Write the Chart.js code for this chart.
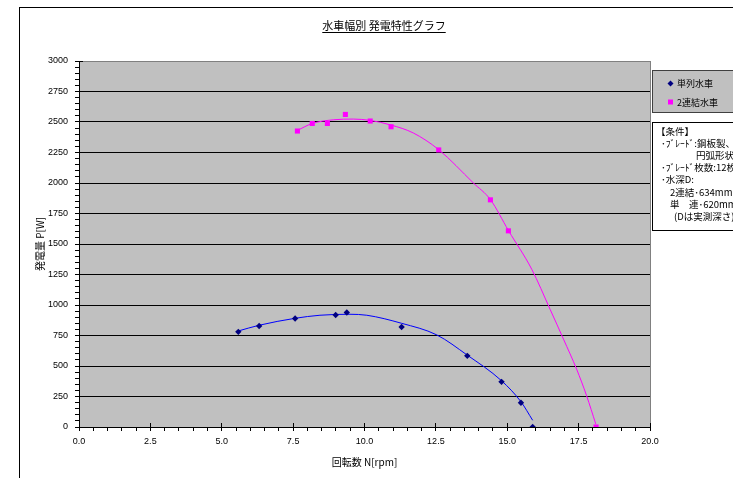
<!DOCTYPE html>
<html><head><meta charset="utf-8">
<script src="https://cdn.jsdelivr.net/npm/chart.js@4.4.0/dist/chart.umd.min.js"></script>
<style>html,body{margin:0;padding:0;background:#fff;overflow:hidden}#wrap{width:733px;height:478px}</style>
</head><body><div id="wrap"><canvas id="c" width="733" height="478"></canvas></div>
<script>
const chartTitle = '水車幅別 発電特性グラフ';
const xAxisTitle = '回転数 N[rpm]';
const yAxisTitle = '発電量 P[W]';
const seriesNames = ['単列水車', '2連結水車'];

// measured points
const rpmSingle   = [5.58, 6.31, 7.57, 8.99, 9.38, 11.30, 13.60, 14.80, 15.48, 15.89];
const powerSingle = [780, 828, 889, 918, 938, 820, 583, 370, 199, 0];
const rpmDouble   = [7.65, 8.17, 8.70, 9.33, 10.20, 10.93, 12.60, 14.41, 15.04, 18.11];
const powerDouble = [2426, 2488, 2488, 2562, 2508, 2461, 2271, 1862, 1608, 0];

// trendlines
const trendSingleX = [5.58, 6.31, 7.57, 8.44, 9.49, 10.08, 11.30, 12.53, 13.60, 14.80, 15.48, 15.89];
const trendSingleY = [787, 834, 891, 916, 924, 916, 850, 755, 589, 379, 207, 55];
const trendDoubleX = [7.65, 8.17, 8.91, 9.61, 10.20, 10.93, 11.71, 12.60, 13.81, 14.41, 15.04, 15.86, 16.50, 16.97, 17.43, 17.78, 18.10];
const trendDoubleY = [2431, 2488, 2518, 2524, 2513, 2475, 2410, 2273, 2001, 1864, 1611, 1292, 965, 720, 474, 256, 25];

const xMin = 0, xMax = 20, xStep = 2.5, xMinor = 0.5;
const yMin = 0, yMax = 3000, yStep = 250, yMinor = 50;

const conditionLines = ['【条件】', '･ﾌﾞﾚｰﾄﾞ:鋼板製、', '円弧形状', '･ﾌﾞﾚｰﾄﾞ枚数:12枚', '･水深D:', '2連結･634mm', '単　連･620mm', '(Dは実測深さ)'];
const conditionIndent = [4, 9, 44, 9, 9, 18, 18, 22];

const pts = (xs, ys) => xs.map((x, i) => ({x, y: ys[i]}));
const JP = '"Noto Sans CJK JP", sans-serif';
const LAT = '"Liberation Sans", Arial, sans-serif';

const decor = {
  id: 'decor',
  beforeDraw(chart) {
    const {ctx, chartArea: a} = chart;
    ctx.save();
    ctx.fillStyle = '#fff'; ctx.fillRect(0, 0, chart.width, chart.height);
    ctx.strokeStyle = '#000'; ctx.lineWidth = 1;
    ctx.strokeRect(19.5, 7.5, chart.width + 20, chart.height + 20);
    ctx.fillStyle = '#C0C0C0';
    ctx.fillRect(a.left, a.top, a.right - a.left, a.bottom - a.top);
    ctx.restore();
  },
  beforeDatasetsDraw(chart) {
    const {ctx, chartArea: a} = chart;
    ctx.save();
    ctx.strokeStyle = '#808080'; ctx.lineWidth = 1;
    ctx.beginPath();
    ctx.moveTo(a.right + 0.5, a.top); ctx.lineTo(a.right + 0.5, a.bottom);
    ctx.moveTo(a.left, a.top + 0.5); ctx.lineTo(a.right + 1, a.top + 0.5);
    ctx.stroke();
    ctx.restore();
  },
  afterDraw(chart) {
    const {ctx, chartArea: a} = chart;
    const xs = chart.scales.x, ys = chart.scales.y;
    const al = p => Math.round(p - 0.5) + 0.5;
    ctx.save();
    ctx.strokeStyle = '#000'; ctx.lineWidth = 1;
    ctx.beginPath();
    const ny = Math.round((yMax - yMin) / yMinor);
    for (let i = 0; i <= ny; i++) {
      const v = yMin + i * yMinor;
      const y = al(ys.getPixelForValue(v));
      const major = Math.abs(v / yStep - Math.round(v / yStep)) < 1e-6;
      ctx.moveTo(a.left - 4, y); ctx.lineTo(major ? a.left + 4 : a.left + 0.5, y);
    }
    const nx = Math.round((xMax - xMin) / xMinor);
    for (let i = 0; i <= nx; i++) {
      const v = xMin + i * xMinor;
      const x = al(xs.getPixelForValue(v));
      const major = Math.abs(v / xStep - Math.round(v / xStep)) < 1e-6;
      ctx.moveTo(x, major ? a.bottom - 4 : a.bottom); ctx.lineTo(x, a.bottom + 4);
    }
    ctx.stroke();

    // title
    ctx.fillStyle = '#000';
    ctx.font = '11px ' + JP;
    ctx.textAlign = 'center'; ctx.textBaseline = 'alphabetic';
    const tx = 384, ty = 30;
    ctx.fillText(chartTitle, tx, ty);
    const tw = ctx.measureText(chartTitle).width;
    ctx.beginPath(); ctx.moveTo(tx - tw / 2, 32.5); ctx.lineTo(tx + tw / 2, 32.5); ctx.stroke();

    // legend box
    ctx.fillStyle = '#C0C0C0';
    ctx.fillRect(652, 70, 100, 42);
    ctx.strokeStyle = '#404040';
    ctx.strokeRect(652.5, 70.5, 100, 42);
    const ds = chart.data.datasets;
    ctx.fillStyle = ds[0].pointBackgroundColor;
    ctx.beginPath();
    ctx.moveTo(670.5, 80.5); ctx.lineTo(673.5, 83.5); ctx.lineTo(670.5, 86.5); ctx.lineTo(667.5, 83.5); ctx.closePath(); ctx.fill();
    ctx.fillStyle = ds[1].pointBackgroundColor;
    ctx.fillRect(668, 99.5, 5, 5);
    ctx.fillStyle = '#000';
    ctx.textAlign = 'left'; ctx.textBaseline = 'middle';
    ctx.font = '9px ' + JP;
    ctx.fillText(seriesNames[0], 677, 84);
    ctx.fillText(seriesNames[1], 677, 102.5);

    // conditions box
    ctx.fillStyle = '#fff';
    ctx.fillRect(652, 122, 100, 108);
    ctx.strokeStyle = '#000';
    ctx.strokeRect(652.5, 122.5, 100, 108);
    ctx.fillStyle = '#000';
    ctx.font = '9.5px ' + JP;
    conditionLines.forEach((t, i) => {
      ctx.fillText(t, 652 + conditionIndent[i], 131 + i * 12.2);
    });
    ctx.restore();
  }
};

new Chart(document.getElementById('c'), {
  type: 'scatter',
  data: {
    datasets: [
      {label: seriesNames[0], data: pts(rpmSingle, powerSingle), pointStyle: 'rectRot', pointRadius: 3.2,
       pointBackgroundColor: '#000080', pointBorderColor: '#000080', pointBorderWidth: 0, showLine: false, order: 0},
      {label: seriesNames[1], data: pts(rpmDouble, powerDouble), pointStyle: 'rect', pointRadius: 3.6,
       pointBackgroundColor: '#FF00FF', pointBorderColor: '#FF00FF', pointBorderWidth: 0, showLine: false, order: 0},
      {label: 'trend1', data: pts(trendSingleX, trendSingleY), showLine: true, pointRadius: 0,
       borderColor: '#0000FF', borderWidth: 1, cubicInterpolationMode: 'monotone', order: 1},
      {label: 'trend2', data: pts(trendDoubleX, trendDoubleY), showLine: true, pointRadius: 0,
       borderColor: '#FF00FF', borderWidth: 1, cubicInterpolationMode: 'monotone', order: 1}
    ]
  },
  options: {
    responsive: false, animation: false, devicePixelRatio: 1,
    layout: {padding: {left: 19, top: 61, right: 83, bottom: 0}},
    plugins: {legend: {display: false}, tooltip: {enabled: false}, title: {display: false}},
    scales: {
      x: {
        type: 'linear', min: xMin, max: xMax,
        afterFit: s => { s.height = 51; },
        ticks: {stepSize: xStep, padding: 9, color: '#000', font: {family: LAT, size: 9},
                callback: v => Number(v).toFixed(1), maxRotation: 0, autoSkip: false},
        grid: {display: false, drawTicks: false},
        border: {display: true, color: '#000', width: 1},
        title: {display: true, text: xAxisTitle, color: '#000', font: {family: JP, size: 10}, padding: {top: 0, bottom: 10}}
      },
      y: {
        type: 'linear', min: yMin, max: yMax,
        afterFit: s => { s.width = 60; },
        ticks: {stepSize: yStep, padding: 11, color: '#000', font: {family: LAT, size: 9},
                callback: v => String(v)},
        grid: {drawTicks: false, lineWidth: 1,
               color: c => (c.tick && c.tick.value === yMax) ? '#808080' : '#000'},
        border: {display: true, color: '#000', width: 1},
        title: {display: true, text: yAxisTitle, color: '#000', font: {family: JP, size: 10}, padding: {top: 15, bottom: 0}}
      }
    }
  },
  plugins: [decor]
});
</script>
</body></html>
